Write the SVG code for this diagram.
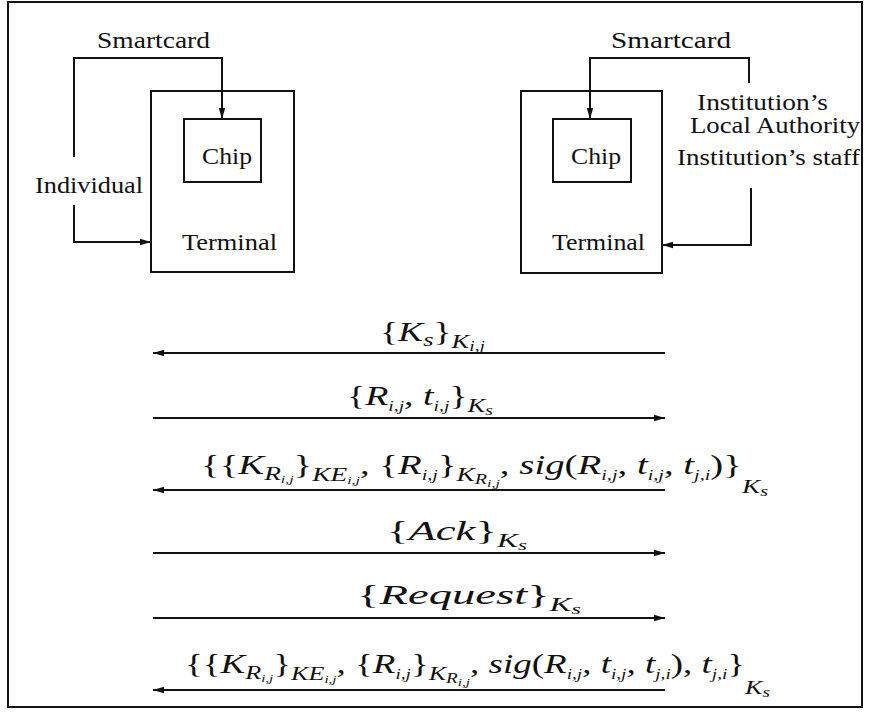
<svg xmlns="http://www.w3.org/2000/svg" width="869" height="714" viewBox="0 0 869 714">
<style>
.t{font-family:"Liberation Serif",serif;font-size:23px;fill:#111}
.m{font-family:"Liberation Serif",serif;font-style:italic;font-size:27px;fill:#111}
.r{font-style:normal}
.s{font-size:19px}
.ss{font-size:14px}
.sss{font-size:11px}
.box{fill:none;stroke:#111;stroke-width:2}
.ln{fill:none;stroke:#111;stroke-width:2}
</style>
<defs>
<marker id="ah" markerUnits="userSpaceOnUse" markerWidth="12" markerHeight="8" refX="11" refY="4" orient="auto">
<path d="M0,0.8 L11,4 L0,7.2 z" fill="#111"/>
</marker>
</defs>
<rect x="8" y="2" width="854" height="705" class="box"/>

<g id="terminal-left">
<rect x="151" y="91" width="143" height="181" class="box"/>
<text x="182" y="250" class="t" textLength="95" lengthAdjust="spacingAndGlyphs">Terminal</text>
</g>
<g id="chip-left">
<rect x="184" y="119" width="77" height="63" class="box"/>
<text x="202" y="164" class="t" textLength="50" lengthAdjust="spacingAndGlyphs">Chip</text>
</g>
<g id="terminal-right">
<rect x="521" y="91" width="141" height="182" class="box"/>
<text x="552" y="250" class="t" textLength="93" lengthAdjust="spacingAndGlyphs">Terminal</text>
</g>
<g id="chip-right">
<rect x="553" y="119" width="78" height="63" class="box"/>
<text x="571" y="164" class="t" textLength="50" lengthAdjust="spacingAndGlyphs">Chip</text>
</g>
<g id="labels-top">
<text x="97" y="48" class="t" textLength="113" lengthAdjust="spacingAndGlyphs">Smartcard</text>
<text x="35" y="193" class="t" textLength="108" lengthAdjust="spacingAndGlyphs">Individual</text>
<text x="611" y="48" class="t" textLength="120" lengthAdjust="spacingAndGlyphs">Smartcard</text>
<text x="697" y="110" class="t" textLength="131" lengthAdjust="spacingAndGlyphs">Institution’s</text>
<text x="690" y="133" class="t" textLength="170" lengthAdjust="spacingAndGlyphs">Local Authority</text>
<text x="677" y="165" class="t" textLength="183" lengthAdjust="spacingAndGlyphs">Institution’s staff</text>
</g>

<g id="connectors">
<path d="M74,157 V58 H222 V119" class="ln" marker-end="url(#ah)"/>
<path d="M74,205 V242 H151" class="ln" marker-end="url(#ah)"/>
<path d="M749,83 V58 H590 V119" class="ln" marker-end="url(#ah)"/>
<path d="M751,188 V245 H662" class="ln" marker-end="url(#ah)"/>
<line x1="665" y1="353" x2="153" y2="353" class="ln" marker-end="url(#ah)"/>
<line x1="153" y1="418" x2="665" y2="418" class="ln" marker-end="url(#ah)"/>
<line x1="665" y1="490" x2="153" y2="490" class="ln" marker-end="url(#ah)"/>
<line x1="153" y1="553" x2="665" y2="553" class="ln" marker-end="url(#ah)"/>
<line x1="153" y1="618" x2="665" y2="618" class="ln" marker-end="url(#ah)"/>
<line x1="665" y1="690" x2="153" y2="690" class="ln" marker-end="url(#ah)"/>
</g>

<g id="msg-labels">
<text x="380" y="341" class="m" textLength="105" lengthAdjust="spacingAndGlyphs"><tspan class="r">{</tspan>K<tspan class="s" dy="5">s</tspan><tspan class="r" dy="-5">}</tspan><tspan class="s" dy="7">K</tspan><tspan class="ss" dy="3">i,j</tspan></text>

<text x="347" y="405" class="m" textLength="146" lengthAdjust="spacingAndGlyphs"><tspan class="r">{</tspan>R<tspan class="ss" dy="6">i,j</tspan><tspan class="r" dy="-6">, </tspan>t<tspan class="ss" dy="6">i,j</tspan><tspan class="r" dy="-6">}</tspan><tspan class="s" dy="7">K</tspan><tspan class="ss" dy="3">s</tspan></text>

<text x="201" y="474" class="m" textLength="567" lengthAdjust="spacingAndGlyphs"><tspan class="r">{{</tspan>K<tspan class="s" dy="6">R</tspan><tspan class="sss" dy="3">i,j</tspan><tspan class="r" dy="-9">}</tspan><tspan class="s" dy="7">KE</tspan><tspan class="sss" dy="3">i,j</tspan><tspan class="r" dy="-10">, {</tspan>R<tspan class="ss" dy="6">i,j</tspan><tspan class="r" dy="-6">}</tspan><tspan class="s" dy="7">K</tspan><tspan class="ss" dy="3">R</tspan><tspan class="sss" dy="3">i,j</tspan><tspan class="r" dy="-13">, </tspan>sig<tspan class="r">(</tspan>R<tspan class="ss" dy="6">i,j</tspan><tspan class="r" dy="-6">, </tspan>t<tspan class="ss" dy="6">i,j</tspan><tspan class="r" dy="-6">, </tspan>t<tspan class="ss" dy="6">j,i</tspan><tspan class="r" dy="-6">)}</tspan><tspan class="s" dy="19">K</tspan><tspan class="ss" dy="3">s</tspan></text>

<text x="387" y="540" class="m" textLength="140" lengthAdjust="spacingAndGlyphs"><tspan class="r">{</tspan>Ack<tspan class="r">}</tspan><tspan class="s" dy="7">K</tspan><tspan class="ss" dy="3">s</tspan></text>

<text x="357" y="604" class="m" textLength="224" lengthAdjust="spacingAndGlyphs"><tspan class="r">{</tspan>Request<tspan class="r">}</tspan><tspan class="s" dy="7">K</tspan><tspan class="ss" dy="3">s</tspan></text>

<text x="185" y="673" class="m" textLength="585" lengthAdjust="spacingAndGlyphs"><tspan class="r">{{</tspan>K<tspan class="s" dy="6">R</tspan><tspan class="sss" dy="3">i,j</tspan><tspan class="r" dy="-9">}</tspan><tspan class="s" dy="7">KE</tspan><tspan class="sss" dy="3">i,j</tspan><tspan class="r" dy="-10">, {</tspan>R<tspan class="ss" dy="6">i,j</tspan><tspan class="r" dy="-6">}</tspan><tspan class="s" dy="7">K</tspan><tspan class="ss" dy="3">R</tspan><tspan class="sss" dy="3">i,j</tspan><tspan class="r" dy="-13">, </tspan>sig<tspan class="r">(</tspan>R<tspan class="ss" dy="6">i,j</tspan><tspan class="r" dy="-6">, </tspan>t<tspan class="ss" dy="6">i,j</tspan><tspan class="r" dy="-6">, </tspan>t<tspan class="ss" dy="6">j,i</tspan><tspan class="r" dy="-6">), </tspan>t<tspan class="ss" dy="6">j,i</tspan><tspan class="r" dy="-6">}</tspan><tspan class="s" dy="21">K</tspan><tspan class="ss" dy="3">s</tspan></text>
</g>
</svg>
